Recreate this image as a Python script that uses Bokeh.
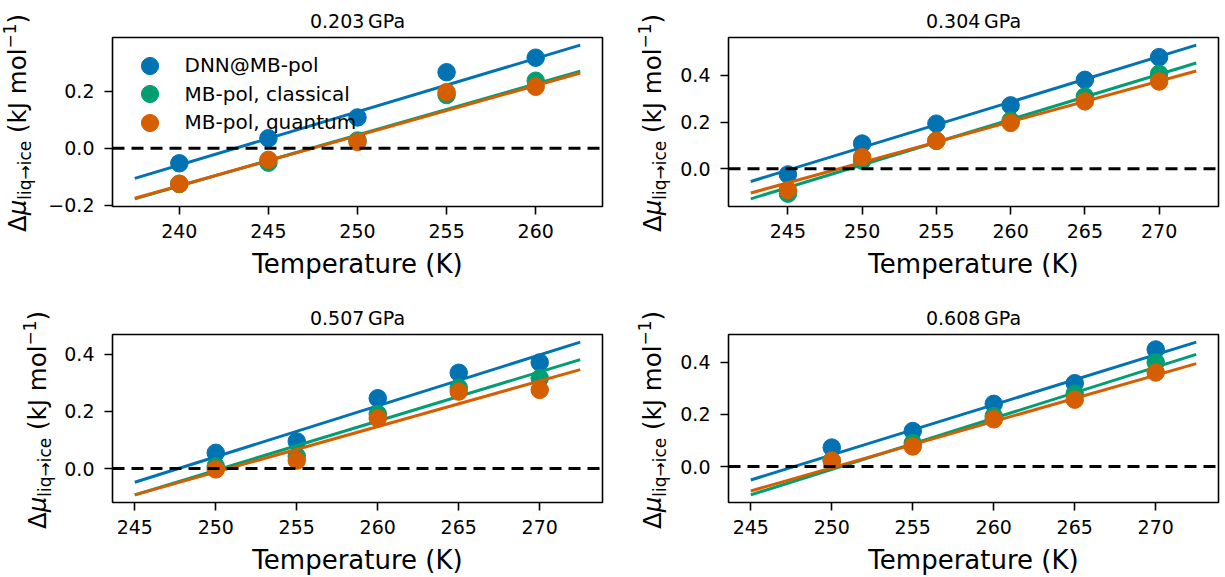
from bokeh.plotting import figure
from bokeh.models import (Range1d, FixedTicker, Legend, LegendItem, Span, Title, Div)
from bokeh.layouts import row, column
from bokeh.embed import file_html
from bokeh.resources import INLINE

# ---------------- data ----------------
titles = ["0.203\u2009GPa", "0.304\u2009GPa", "0.507\u2009GPa", "0.608\u2009GPa"]
series_names = ["DNN@MB-pol", "MB-pol, classical", "MB-pol, quantum"]
colors = ["#0173b2", "#029e73", "#d55e00"]
zero_level = 0.0

T_203 = [240, 245, 250, 255, 260]
dnn_203 = [-0.053, 0.035, 0.108, 0.267, 0.318]
cls_203 = [-0.126, -0.051, 0.027, 0.187, 0.237]
qnt_203 = [-0.125, -0.041, 0.022, 0.197, 0.216]
fitT_203 = [237.5, 262.5]
fit_dnn_203 = [-0.106, 0.362]
fit_cls_203 = [-0.178, 0.271]
fit_qnt_203 = [-0.176, 0.264]

T_304 = [245, 250, 255, 260, 265, 270]
dnn_304 = [-0.024, 0.108, 0.193, 0.271, 0.380, 0.477]
cls_304 = [-0.106, 0.035, 0.120, 0.206, 0.309, 0.406]
qnt_304 = [-0.091, 0.050, 0.120, 0.196, 0.288, 0.373]
fitT_304 = [242.5, 272.5]
fit_dnn_304 = [-0.054, 0.528]
fit_cls_304 = [-0.128, 0.452]
fit_qnt_304 = [-0.103, 0.418]

T_507 = [250, 255, 260, 265, 270]
dnn_507 = [0.055, 0.095, 0.246, 0.335, 0.371]
cls_507 = [0.008, 0.043, 0.191, 0.283, 0.316]
qnt_507 = [-0.003, 0.028, 0.176, 0.269, 0.275]
fitT_507 = [245, 272.5]
fit_dnn_507 = [-0.048, 0.442]
fit_cls_507 = [-0.092, 0.381]
fit_qnt_507 = [-0.092, 0.346]

T_608 = [250, 255, 260, 265, 270]
dnn_608 = [0.073, 0.136, 0.240, 0.319, 0.448]
cls_608 = [0.023, 0.090, 0.193, 0.279, 0.399]
qnt_608 = [0.023, 0.077, 0.181, 0.256, 0.360]
fitT_608 = [245, 272.5]
fit_dnn_608 = [-0.051, 0.476]
fit_cls_608 = [-0.108, 0.429]
fit_qnt_608 = [-0.093, 0.394]

xticks_203 = [240, 245, 250, 255, 260]
xticks_hi = [245, 250, 255, 260, 265, 270]
yticks_203 = [-0.2, 0.0, 0.2]
ylabels_203 = ["\u22120.2", "0.0", "0.2"]
yticks_hi = [0.0, 0.2, 0.4]
ylabels_hi = ["0.0", "0.2", "0.4"]

x_label = "Temperature (K)"
# y label:  Δμ_{liq→ice} (kJ mol^{-1})
y_main, y_mu, y_sub, y_unit, y_sup, y_close = "\u0394", "\u03bc", "liq\u2192ice", " (kJ mol", "\u22121", ")"
FONT = "DejaVu Sans"
FRAME_W, FRAME_H = 490, 169


def pad(lo, hi, frac=0.05):
    d = (hi - lo) * frac
    return lo - d, hi + d


def ylabel_div(width, height, cx, cy):
    """Rotated y-axis label with real sub/superscripts, centred at (cx, cy)."""
    inner = (
        f'<div style="position:absolute;left:{cx}px;top:{cy}px;'
        'transform:translate(-50%,-50%) rotate(-90deg);white-space:nowrap;'
        f"font-family:'{FONT}';font-size:24.5px;line-height:24.5px;color:#000;\">"
        f'{y_main}<span style="font-style:italic">{y_mu}</span>'
        f'<span style="font-size:17px;position:relative;top:5px">{y_sub}</span>'
        f'{y_unit}<span style="font-size:17px;position:relative;top:-10px">{y_sup}</span>'
        f'{y_close}</div>')
    html = (f'<div style="position:relative;width:{width}px;height:{height}px;'
            f'overflow:visible;">{inner}</div>')
    return Div(text=html, width=width, height=height, margin=(0, 0, 0, 0),
               styles={"overflow": "visible"})


def make_panel(title, T, ys, fitT, fits, xticks, yticks, ylabels, border_left, border_right,
               border_top, border_bottom, legend=False):
    ally = [v for s in ys for v in s] + [v for s in fits for v in s]
    x0, x1 = pad(fitT[0], fitT[-1])
    y0, y1 = pad(min(ally), max(ally))
    p = figure(width=border_left + FRAME_W + border_right,
               height=border_top + FRAME_H + border_bottom,
               output_backend="svg", toolbar_location=None,
               x_range=Range1d(x0, x1), y_range=Range1d(y0, y1),
               min_border_left=border_left, min_border_right=border_right,
               min_border_top=border_top, min_border_bottom=border_bottom)
    p.title = Title(text=title, align="center", text_font=FONT, text_font_size="19px",
                    text_font_style="normal", text_color="black", standoff=12)
    p.grid.visible = False
    p.outline_line_color = "black"
    p.outline_line_width = 1.6
    p.outline_line_alpha = 1.0
    p.background_fill_color = "white"
    p.border_fill_color = "white"
    for ax in (p.xaxis, p.yaxis):
        ax.axis_line_color = None
        ax.major_tick_out = 8
        ax.major_tick_in = 0
        ax.major_tick_line_width = 1.6
        ax.major_tick_line_color = "black"
        ax.minor_tick_line_color = None
        ax.major_label_text_font = FONT
        ax.major_label_text_font_size = "19px"
        ax.major_label_text_color = "black"
    p.xaxis.major_label_standoff = 9
    p.yaxis.major_label_standoff = 10
    p.xaxis.ticker = FixedTicker(ticks=xticks)
    p.yaxis.ticker = FixedTicker(ticks=yticks)
    p.yaxis.major_label_overrides = {t: l for t, l in zip(yticks, ylabels)}
    p.xaxis.axis_label = x_label
    p.xaxis.axis_label_text_font = FONT
    p.xaxis.axis_label_text_font_size = "26px"
    p.xaxis.axis_label_text_font_style = "normal"
    p.xaxis.axis_label_text_color = "black"
    p.xaxis.axis_label_standoff = 8

    p.add_layout(Span(location=zero_level, dimension="width", line_color="black",
                      line_width=3, line_dash="12 7"))
    rends = []
    for c, y, f in zip(colors, ys, fits):
        r = p.scatter(T, y, size=17.5, color=c, line_color=c)
        p.line(fitT, f, line_color=c, line_width=3)
        rends.append(r)
    if legend:
        # one legend box per entry so rows can be closer than the marker box
        row_centers = [28.4, 56.9, 85.4]   # px below the frame top
        for name, r, cy in zip(series_names, rends, row_centers):
            lg = Legend(items=[LegendItem(label=name, renderers=[r])],
                        location=(15.5, FRAME_H - cy - 21.5), glyph_width=43, glyph_height=43,
                        padding=0, margin=0, label_standoff=14,
                        border_line_alpha=0, background_fill_alpha=0,
                        label_text_font=FONT, label_text_font_size="20px",
                        label_text_color="black")
            p.add_layout(lg)
    return p


TOP_T, TOP_B = 37, 84
BOT_T, BOT_B = 44, 74
top_h = TOP_T + FRAME_H + TOP_B
bot_h = BOT_T + FRAME_H + BOT_B

d1 = ylabel_div(44, top_h, 19.0, TOP_T + FRAME_H / 2.0 + 1)
p1 = make_panel(titles[0], T_203, [dnn_203, cls_203, qnt_203], fitT_203,
                [fit_dnn_203, fit_cls_203, fit_qnt_203], xticks_203, yticks_203, ylabels_203,
                68, 22, TOP_T, TOP_B, legend=True)
d2 = ylabel_div(52, top_h, 29.5, TOP_T + FRAME_H / 2.0 + 1)
p2 = make_panel(titles[1], T_304, [dnn_304, cls_304, qnt_304], fitT_304,
                [fit_dnn_304, fit_cls_304, fit_qnt_304], xticks_hi, yticks_hi, ylabels_hi,
                52, 7, TOP_T, TOP_B)
d3 = ylabel_div(58, bot_h, 38.5, BOT_T + FRAME_H / 2.0 + 1)
p3 = make_panel(titles[2], T_507, [dnn_507, cls_507, qnt_507], fitT_507,
                [fit_dnn_507, fit_cls_507, fit_qnt_507], xticks_hi, yticks_hi, ylabels_hi,
                54, 22, BOT_T, BOT_B)
d4 = ylabel_div(52, bot_h, 29.5, BOT_T + FRAME_H / 2.0 + 1)
p4 = make_panel(titles[3], T_608, [dnn_608, cls_608, qnt_608], fitT_608,
                [fit_dnn_608, fit_cls_608, fit_qnt_608], xticks_hi, yticks_hi, ylabels_hi,
                52, 7, BOT_T, BOT_B)

layout = column(row(d1, p1, d2, p2), row(d3, p3, d4, p4))
open("out.html", "w").write(file_html(layout, INLINE))
